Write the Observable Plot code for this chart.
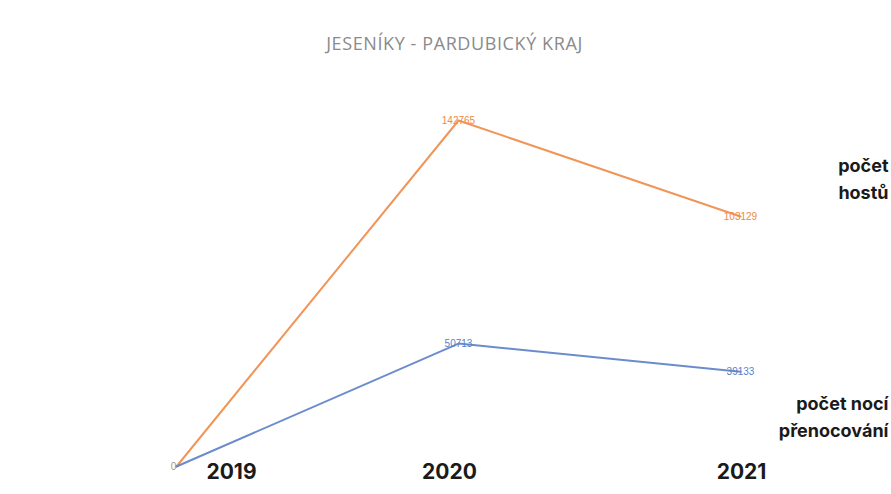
<!DOCTYPE html>
<html>
<head>
<meta charset="utf-8">
<script src="https://cdn.jsdelivr.net/npm/d3@7"></script>
<script src="https://cdn.jsdelivr.net/npm/@observablehq/plot@0.6"></script>
<style>
  html, body { margin: 0; padding: 0; background: #fff; }
  #wrap { width: 891px; height: 494px; position: relative; overflow: hidden; }
  #title { height: 60px; padding-top: 30px; box-sizing: border-box; line-height: 26px; text-align: center; font-family: "Open Sans", sans-serif; font-size: 18px; color: #8a8a8a; letter-spacing: 0.6px; padding-left: 18px; }
</style>
</head>
<body>
<div id="wrap">
  <div id="title">JESENÍKY - PARDUBICKÝ KRAJ</div>
  <div id="chart"></div>
</div>
<script>
const years = [2019, 2020, 2021];
const guests = [0, 142765, 103129];
const nights = [0, 50713, 39133];
const seriesNames = ["počet hostů", "počet nocí přenocování"];
const seriesColors = ["#EE8A45", "#5B7FC6"];

const rows = [];
years.forEach((y, i) => rows.push({year: y, value: guests[i], series: seriesNames[0]}));
years.forEach((y, i) => rows.push({year: y, value: nights[i], series: seriesNames[1]}));

const yearFont = {fontFamily: "Inter, sans-serif", fontSize: 21, fontWeight: 700, fill: "#1a1a1a"};
const sideFont = {fontFamily: "Inter, sans-serif", fontSize: 18, fontWeight: 700, fill: "#1a1a1a", textAnchor: "end", lineHeight: 1.5};

const chart = Plot.plot({
  width: 891,
  height: 434,
  marginLeft: 175,
  marginRight: 151,
  marginTop: 60,
  marginBottom: 28,
  x: {type: "point", domain: years, padding: 0, axis: null},
  y: {domain: [0, 142765], axis: null},
  color: {domain: seriesNames, range: seriesColors},
  marks: [
    Plot.line(rows, {x: "year", y: "value", z: "series", stroke: "series", strokeWidth: 2, strokeOpacity: 0.9}),
    Plot.text(rows.filter(d => d.value > 0), {x: "year", y: "value", text: d => String(d.value), fill: "series", fontSize: 10, fontFamily: "Liberation Sans, sans-serif"}),
    Plot.text(rows.filter(d => d.value === 0 && d.series === seriesNames[1]), {x: "year", y: "value", text: d => String(d.value), fill: "#999", fontSize: 10, dx: -3, fontFamily: "Liberation Sans, sans-serif"}),
    Plot.text([years[0]], {x: d => d, text: d => String(d), frameAnchor: "bottom", dy: 12, dx: 55, ...yearFont}),
    Plot.text([years[1]], {x: d => d, text: d => String(d), frameAnchor: "bottom", dy: 12, dx: -9, ...yearFont}),
    Plot.text([years[2]], {x: d => d, text: d => String(d), frameAnchor: "bottom", dy: 12, dx: 1, ...yearFont}),
    Plot.text(["počet\nhostů"], {text: d => d, frameAnchor: "top-right", dx: 148, dy: 56, lineAnchor: "middle", ...sideFont}),
    Plot.text(["počet nocí\npřenocování"], {text: d => d, frameAnchor: "top-right", dx: 148, dy: 294, lineAnchor: "middle", ...sideFont})
  ]
});
document.getElementById("chart").appendChild(chart);
</script>
</body>
</html>
